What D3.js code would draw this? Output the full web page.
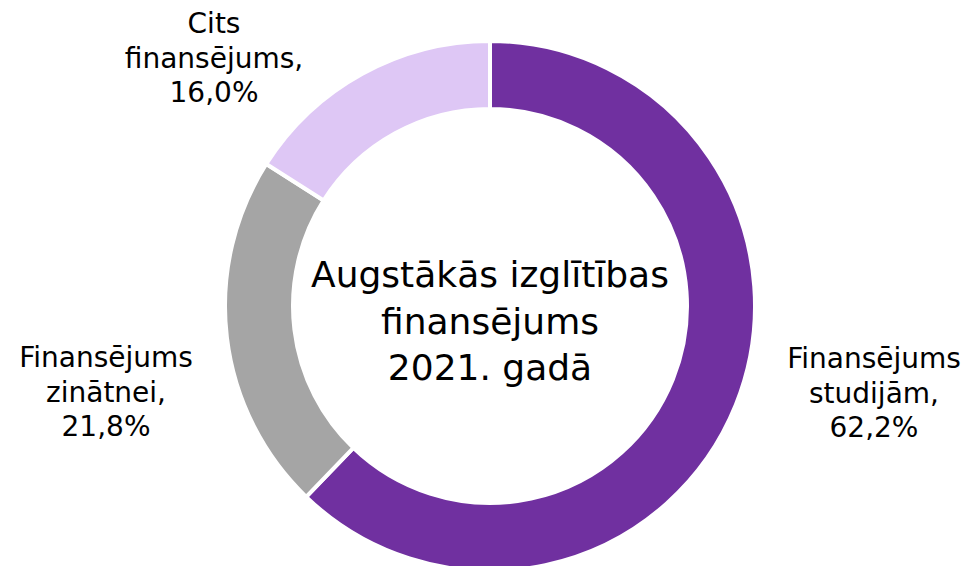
<!DOCTYPE html>
<html>
<head>
<meta charset="utf-8">
<script src="https://cdn.jsdelivr.net/npm/d3@7"></script>
<style>
  html, body { margin: 0; padding: 0; background: #fff; }
  svg { display: block; font-family: "DejaVu Sans", Verdana, sans-serif; }
</style>
</head>
<body>
<svg id="chart" width="970" height="566"></svg>
<script>
// data
const categories = ['Finansējums studijām', 'Finansējums zinātnei', 'Cits finansējums']
const values = [62.2, 21.8, 16.0]
const labelLines = [
  ['Finansējums', 'studijām,'],
  ['Finansējums', 'zinātnei,'],
  ['Cits', 'finansējums,']
]
const titleLines = ['Augstākās izglītības', 'finansējums', '2021. gadā']
const colors = ['#7030A0', '#A5A5A5', '#DEC7F5']

const width = 970
const height = 566
const cx = 490
const cy = 306
const outerRadius = 265
const innerRadius = 197

const svg = d3.select('#chart')
const g = svg.append('g').attr('transform', `translate(${cx}, ${cy})`)

const pie = d3.pie().sort(null).value(d => d)
const arc = d3.arc().innerRadius(innerRadius).outerRadius(outerRadius)
const color = d3.scaleOrdinal().domain(categories).range(colors)

const arcs = pie(values)

g.selectAll('path')
  .data(arcs)
  .enter()
  .append('path')
  .attr('d', arc)
  .attr('fill', (d, i) => color(categories[i]))
  .attr('stroke', '#fff')
  .attr('stroke-width', 4)

// label placement (manual, like the original)
const fmt = v => d3.format('.1f')(v).replace('.', ',') + '%'
const labelPos = [
  { x: 384, y: 62 },
  { x: -384, y: 61 },
  { x: -276, y: -273 }
]
const lineGap = 34.5

arcs.forEach((d, i) => {
  const lines = labelLines[i].concat([fmt(values[i])])
  const t = g.append('text')
    .attr('text-anchor', 'middle')
    .attr('font-size', 28)
    .attr('fill', '#000')
  lines.forEach((ln, j) => {
    t.append('tspan')
      .attr('x', labelPos[i].x)
      .attr('y', labelPos[i].y + j * lineGap)
      .text(ln)
  })
})

// centre title
const title = g.append('text')
  .attr('text-anchor', 'middle')
  .attr('font-size', 36)
  .attr('fill', '#000')
titleLines.forEach((ln, j) => {
  title.append('tspan')
    .attr('x', 0)
    .attr('y', -19 + j * 46.5)
    .text(ln)
})
</script>
</body>
</html>
